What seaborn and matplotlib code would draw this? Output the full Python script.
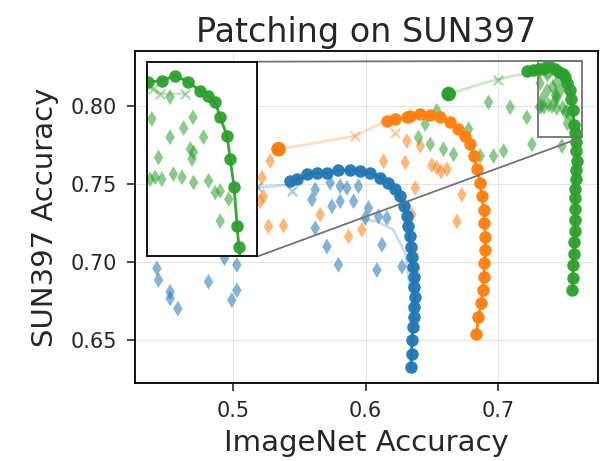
import matplotlib
matplotlib.use("Agg")
import matplotlib.pyplot as plt
import seaborn as sns
from mpl_toolkits.axes_grid1.inset_locator import mark_inset

# patching curves (circles), from fine-tuned end to zero-shot end
blue_x = [0.5432, 0.5483, 0.5558, 0.5633, 0.5709, 0.5796, 0.5885, 0.5960, 0.6035, 0.6111,
          0.6173, 0.6224, 0.6262, 0.6287, 0.6312, 0.6324, 0.6332, 0.6342, 0.6350, 0.6357,
          0.6362, 0.6367, 0.6370, 0.6367, 0.6362, 0.6357, 0.6350, 0.6347, 0.6342]
blue_y = [0.7518, 0.7529, 0.7561, 0.7568, 0.7572, 0.7589, 0.7589, 0.7583, 0.7568, 0.7540,
          0.7508, 0.7465, 0.7421, 0.7357, 0.7292, 0.7228, 0.7164, 0.7099, 0.7034, 0.6970,
          0.6905, 0.6841, 0.6776, 0.6712, 0.6647, 0.6583, 0.6497, 0.6411, 0.6325]

orange_x = [0.6164, 0.6224, 0.6314, 0.6337, 0.6412, 0.6488, 0.6563, 0.6639, 0.6701, 0.6752,
            0.6790, 0.6815, 0.6840, 0.6865, 0.6878, 0.6890, 0.6897, 0.6903, 0.6903, 0.6897,
            0.6890, 0.6885, 0.6870, 0.6852, 0.6835]
orange_y = [0.7903, 0.7916, 0.7929, 0.7937, 0.7948, 0.7942, 0.7927, 0.7895, 0.7852, 0.7809,
            0.7755, 0.7680, 0.7594, 0.7508, 0.7421, 0.7335, 0.7249, 0.7163, 0.7077, 0.6991,
            0.6905, 0.6819, 0.6734, 0.6648, 0.6540]

green_x = [0.7220, 0.7260, 0.7305, 0.7347, 0.7387, 0.7426, 0.7462, 0.7486, 0.7507, 0.7522,
           0.7543, 0.7552, 0.7564, 0.7573, 0.7578, 0.7585, 0.7590, 0.7592, 0.7590, 0.7585,
           0.7582, 0.7581, 0.7581, 0.7580, 0.7578, 0.7575, 0.7570, 0.7566, 0.7562, 0.7559]
green_y = [0.8226, 0.8232, 0.8239, 0.8242, 0.8255, 0.8239, 0.8216, 0.8204, 0.8189, 0.8150,
           0.8103, 0.8045, 0.7974, 0.7876, 0.7825, 0.7770, 0.7710, 0.7650, 0.7590, 0.7530,
           0.7470, 0.7410, 0.7340, 0.7270, 0.7200, 0.7130, 0.7050, 0.6980, 0.6900, 0.6820]

# faint curves
blue_faint_x = [0.5050, 0.5183, 0.5445]
blue_faint_y = [0.7450, 0.7477, 0.7497]
blue_faint2_x = [0.5960, 0.6090, 0.6209, 0.6300, 0.6337]
blue_faint2_y = [0.7275, 0.7260, 0.7206, 0.7058, 0.6819]
orange_faint_x = [0.5344, 0.5922, 0.6134]
orange_faint_y = [0.7723, 0.7808, 0.7897]
green_faint_x = [0.6627, 0.6900, 0.7120, 0.7321, 0.7341, 0.7417]
green_faint_y = [0.8077, 0.8150, 0.8195, 0.8222, 0.8209, 0.8209]

# x markers along the faint curves
blue_x_mk_x = [0.5445, 0.5180]
blue_x_mk_y = [0.7454, 0.7480]
orange_x_mk_x = [0.5922, 0.6224]
orange_x_mk_y = [0.7808, 0.7830]
green_x_mk_x = [0.7321, 0.7341, 0.7417, 0.7000]
green_x_mk_y = [0.8222, 0.8209, 0.8209, 0.8170]

# fine-tuned end points
start_x = [0.5344, 0.6627]
start_y = [0.7723, 0.8077]
start_colors = ["tab:orange", "tab:green"]

# individual models (diamonds)
blue_d_x = [0.5621, 0.5596, 0.5734, 0.5809, 0.5860, 0.5947, 0.5747, 0.5809, 0.5910, 0.6023,
            0.5998, 0.6098, 0.6161, 0.5621, 0.5709, 0.5796, 0.6124, 0.6086, 0.6275, 0.4427,
            0.4439, 0.4527, 0.4527, 0.4585, 0.4816, 0.4937, 0.5030, 0.5030, 0.4992]
blue_d_y = [0.7465, 0.7400, 0.7508, 0.7486, 0.7475, 0.7486, 0.7357, 0.7389, 0.7389, 0.7346,
            0.7282, 0.7292, 0.7282, 0.7217, 0.7099, 0.6981, 0.7110, 0.6948, 0.6970, 0.6959,
            0.6884, 0.6808, 0.6766, 0.6701, 0.6873, 0.7024, 0.6981, 0.6819, 0.6755]
orange_d_x = [0.5281, 0.5219, 0.5231, 0.5206, 0.5268, 0.5382, 0.5658, 0.5872, 0.5973, 0.6136,
              0.6299, 0.6312, 0.6413, 0.6375, 0.6350, 0.6538, 0.6614, 0.6727, 0.6689, 0.6500,
              0.6570]
orange_d_y = [0.7647, 0.7540, 0.7421, 0.7389, 0.7228, 0.7232, 0.7303, 0.7163, 0.7206, 0.7647,
              0.7637, 0.7776, 0.7744, 0.7475, 0.7303, 0.7605, 0.7594, 0.7432, 0.7260, 0.7620,
              0.7580]
green_d_x = [0.6538, 0.6400, 0.6488, 0.6450, 0.6588, 0.6664, 0.6777, 0.6865, 0.6965, 0.7041,
             0.6928, 0.7091, 0.7217, 0.7255, 0.7481, 0.7316, 0.7371, 0.7412, 0.7440, 0.7472,
             0.7432, 0.7442, 0.7437, 0.7336, 0.7381, 0.7407, 0.7442, 0.7487, 0.7311, 0.7326,
             0.7346, 0.7507, 0.7522, 0.7548, 0.7522, 0.7371]
green_d_y = [0.7970, 0.7798, 0.7755, 0.7884, 0.7723, 0.7690, 0.7852, 0.7679, 0.7679, 0.7712,
             0.8024, 0.7992, 0.7927, 0.7755, 0.7744, 0.8146, 0.8100, 0.8123, 0.8150, 0.8100,
             0.8070, 0.8062, 0.8045, 0.8049, 0.8007, 0.7999, 0.7986, 0.7990, 0.7994, 0.7999,
             0.7994, 0.7961, 0.7965, 0.7944, 0.7889, 0.8201]

sns.set_style("whitegrid", {"axes.edgecolor": "black", "xtick.bottom": True,
                            "ytick.left": True, "grid.color": "#e4e4e4"})


def draw(ax):
    series = [
        ("tab:blue", blue_x, blue_y, [(blue_faint_x, blue_faint_y), (blue_faint2_x, blue_faint2_y)],
         (blue_x_mk_x, blue_x_mk_y), blue_d_x, blue_d_y),
        ("tab:orange", orange_x, orange_y, [(orange_faint_x, orange_faint_y)],
         (orange_x_mk_x, orange_x_mk_y), orange_d_x, orange_d_y),
        ("tab:green", green_x, green_y, [(green_faint_x, green_faint_y)],
         (green_x_mk_x, green_x_mk_y), green_d_x, green_d_y),
    ]
    for c, mx, my, faint, xmk, dx, dy in series:
        for fx, fy in faint:
            sns.lineplot(x=fx, y=fy, sort=False, estimator=None, color=c, alpha=0.25,
                         linewidth=2, ax=ax)
        sns.scatterplot(x=xmk[0], y=xmk[1], marker="x", s=45, color=c, alpha=0.4,
                        linewidth=1.6, ax=ax)
        sns.scatterplot(x=dx, y=dy, marker="d", s=65, color=c, alpha=0.55,
                        edgecolor="none", ax=ax)
        sns.lineplot(x=mx, y=my, sort=False, estimator=None, color=c, linewidth=2,
                     marker="o", markersize=9, markeredgewidth=0, alpha=0.95, ax=ax)
    sns.scatterplot(x=start_x, y=start_y, hue=start_colors, palette={k: k for k in start_colors},
                    s=110, edgecolor="none", legend=False, ax=ax)


fig, ax = plt.subplots(figsize=(6.06, 4.61), dpi=100)
fig.subplots_adjust(left=0.223, right=0.987, bottom=0.169, top=0.89)

draw(ax)
ax.set_xlim(0.4263, 0.7754)
ax.set_ylim(0.6223, 0.8355)
ax.set_xticks([0.5, 0.6, 0.7])
ax.set_xticklabels(["0.5", "0.6", "0.7"])
ax.set_yticks([0.65, 0.70, 0.75, 0.80])
ax.set_yticklabels(["0.65", "0.70", "0.75", "0.80"])
ax.tick_params(labelsize=15, length=6, width=1.2, pad=7)
for s in ax.spines.values():
    s.set_linewidth(1.3)
ax.set_xlabel("ImageNet Accuracy", fontsize=21, labelpad=6)
ax.set_ylabel("SUN397 Accuracy", fontsize=21, labelpad=8)
ax.set_title("Patching on SUN397", fontsize=24)

axins = ax.inset_axes([0.026, 0.381, 0.238, 0.586])
draw(axins)
axins.set_xlim(0.7302, 0.7634)
axins.set_ylim(0.780, 0.829)
axins.set_xticks([])
axins.set_yticks([])
axins.set_xlabel("")
axins.set_ylabel("")
axins.grid(False)
axins.set_facecolor("white")
for s in axins.spines.values():
    s.set_edgecolor("black")
    s.set_linewidth(1.3)
mark_inset(ax, axins, loc1=1, loc2=4, fc="none", ec="0.45", lw=1.3)

fig.savefig("out.png", dpi=100)
